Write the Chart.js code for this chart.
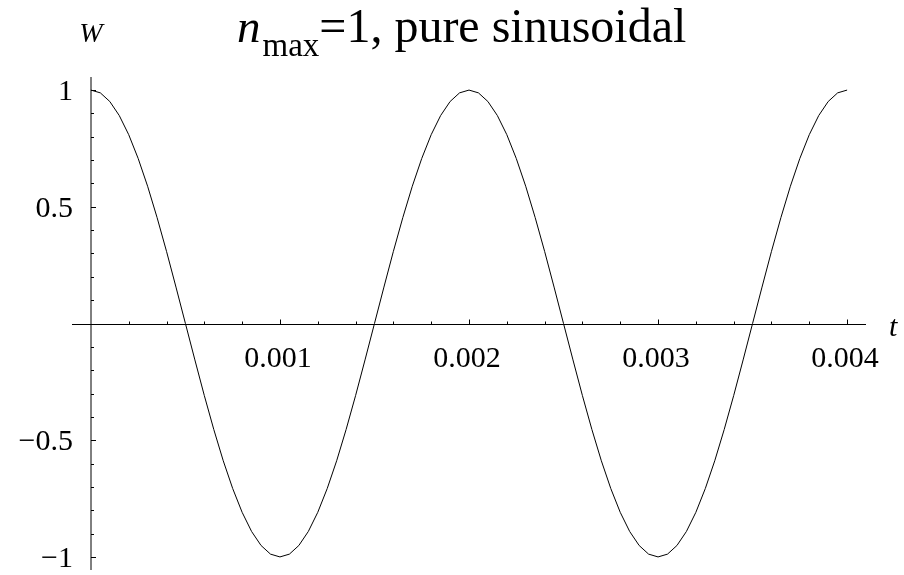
<!DOCTYPE html>
<html>
<head>
<meta charset="utf-8">
<script src="https://cdn.jsdelivr.net/npm/chart.js@4"></script>
<style>
  body { margin: 0; background: #ffffff; }
  canvas { display: block; }
</style>
</head>
<body>
<canvas id="waveChart" width="904" height="575"></canvas>
<script>
// sample times (s) and the signal W(t)
const times = [
  0, 0.00005, 0.0001, 0.00015, 0.0002, 0.00025, 0.0003, 0.00035, 0.0004, 0.00045,
  0.0005, 0.00055, 0.0006, 0.00065, 0.0007, 0.00075, 0.0008, 0.00085, 0.0009, 0.00095,
  0.001, 0.00105, 0.0011, 0.00115, 0.0012, 0.00125, 0.0013, 0.00135, 0.0014, 0.00145,
  0.0015, 0.00155, 0.0016, 0.00165, 0.0017, 0.00175, 0.0018, 0.00185, 0.0019, 0.00195,
  0.002, 0.00205, 0.0021, 0.00215, 0.0022, 0.00225, 0.0023, 0.00235, 0.0024, 0.00245,
  0.0025, 0.00255, 0.0026, 0.00265, 0.0027, 0.00275, 0.0028, 0.00285, 0.0029, 0.00295,
  0.003, 0.00305, 0.0031, 0.00315, 0.0032, 0.00325, 0.0033, 0.00335, 0.0034, 0.00345,
  0.0035, 0.00355, 0.0036, 0.00365, 0.0037, 0.00375, 0.0038, 0.00385, 0.0039, 0.00395,
  0.004
];
const wValues = [
  1, 0.988, 0.951, 0.891, 0.809, 0.707, 0.588, 0.454, 0.309, 0.156,
  0, -0.156, -0.309, -0.454, -0.588, -0.707, -0.809, -0.891, -0.951, -0.988,
  -1, -0.988, -0.951, -0.891, -0.809, -0.707, -0.588, -0.454, -0.309, -0.156,
  0, 0.156, 0.309, 0.454, 0.588, 0.707, 0.809, 0.891, 0.951, 0.988,
  1, 0.988, 0.951, 0.891, 0.809, 0.707, 0.588, 0.454, 0.309, 0.156,
  0, -0.156, -0.309, -0.454, -0.588, -0.707, -0.809, -0.891, -0.951, -0.988,
  -1, -0.988, -0.951, -0.891, -0.809, -0.707, -0.588, -0.454, -0.309, -0.156,
  0, 0.156, 0.309, 0.454, 0.588, 0.707, 0.809, 0.891, 0.951, 0.988,
  1
];

// axis ticks
const xMajorTicks = [0.001, 0.002, 0.003, 0.004];
const xTickLabels = ['0.001', '0.002', '0.003', '0.004'];
const xMinorTicks = [0.0002, 0.0004, 0.0006, 0.0008, 0.0012, 0.0014, 0.0016, 0.0018,
  0.0022, 0.0024, 0.0026, 0.0028, 0.0032, 0.0034, 0.0036, 0.0038];
const yMajorTicks = [-1, -0.5, 0.5, 1];
const yTickLabels = ['\u22121', '\u22120.5', '0.5', '1'];
const yMinorTicks = [-0.9, -0.8, -0.7, -0.6, -0.4, -0.3, -0.2, -0.1,
  0.1, 0.2, 0.3, 0.4, 0.6, 0.7, 0.8, 0.9];

const SERIF = "'Liberation Serif', 'Times New Roman', serif";

// axes crossing at the origin, ticks pointing into the plot
const crossAxes = {
  id: 'crossAxes',
  beforeDatasetsDraw(chart) {
    const ctx = chart.ctx;
    const area = chart.chartArea;
    const xs = chart.scales.x;
    const ys = chart.scales.y;
    const x0 = Math.round(xs.getPixelForValue(0));
    const y0 = Math.round(ys.getPixelForValue(0)) + 0.5;

    ctx.save();
    ctx.strokeStyle = '#000000';
    ctx.lineWidth = 1;

    ctx.beginPath();
    ctx.moveTo(area.left, y0);
    ctx.lineTo(area.right, y0);
    ctx.moveTo(x0, area.top);
    ctx.lineTo(x0, area.bottom);
    ctx.stroke();

    ctx.beginPath();
    xMinorTicks.forEach(function (v) {
      const px = Math.round(xs.getPixelForValue(v)) + 0.5;
      ctx.moveTo(px, y0);
      ctx.lineTo(px, y0 - 3);
    });
    xMajorTicks.forEach(function (v) {
      const px = Math.round(xs.getPixelForValue(v)) + 0.5;
      ctx.moveTo(px, y0);
      ctx.lineTo(px, y0 - 5);
    });
    yMinorTicks.forEach(function (v) {
      const py = Math.round(ys.getPixelForValue(v)) + 0.5;
      ctx.moveTo(x0, py);
      ctx.lineTo(x0 + 3, py);
    });
    yMajorTicks.forEach(function (v) {
      const py = Math.round(ys.getPixelForValue(v)) + 0.5;
      ctx.moveTo(x0, py);
      ctx.lineTo(x0 + 5, py);
    });
    ctx.stroke();

    ctx.fillStyle = '#000000';
    ctx.font = '30px ' + SERIF;
    ctx.textAlign = 'center';
    ctx.textBaseline = 'alphabetic';
    xMajorTicks.forEach(function (v, i) {
      ctx.fillText(xTickLabels[i], xs.getPixelForValue(v) - 2, y0 + 42);
    });
    ctx.textAlign = 'right';
    ctx.textBaseline = 'middle';
    yMajorTicks.forEach(function (v, i) {
      ctx.fillText(yTickLabels[i], x0 - 18, ys.getPixelForValue(v) + 2);
    });

    // axis names
    ctx.font = 'italic 28px ' + SERIF;
    ctx.textAlign = 'center';
    ctx.textBaseline = 'alphabetic';
    ctx.fillText('W', x0, 42);
    ctx.font = 'italic 30px ' + SERIF;
    ctx.textAlign = 'left';
    ctx.fillText('t', 889, y0 + 11);

    // title: n_max=1, pure sinusoidal
    let tx = 237;
    ctx.font = 'italic 47px ' + SERIF;
    ctx.fillText('n', tx, 42);
    tx += ctx.measureText('n').width + 2;
    ctx.font = '33px ' + SERIF;
    ctx.fillText('max', tx, 56);
    tx += ctx.measureText('max').width;
    ctx.font = '48px ' + SERIF;
    ctx.fillText('=1, pure sinusoidal', tx, 42);
    ctx.restore();
  }
};

new Chart(document.getElementById('waveChart'), {
  type: 'line',
  data: {
    labels: times,
    datasets: [
      {
        data: times.map(function (t, i) { return { x: t, y: wValues[i] }; }),
        borderColor: '#000000',
        borderWidth: 1,
        pointRadius: 0,
        tension: 0,
        fill: false,
      },
    ],
  },
  options: {
    responsive: false,
    animation: false,
    devicePixelRatio: 1,
    events: [],
    layout: {
      padding: { top: 77, right: 38, bottom: 5, left: 72 },
    },
    plugins: {
      legend: { display: false },
      tooltip: { enabled: false },
    },
    scales: {
      x: { type: 'linear', display: false, min: -0.0001, max: 0.0041 },
      y: { display: false, min: -1.056, max: 1.056 },
    },
  },
  plugins: [crossAxes],
});
</script>
</body>
</html>
